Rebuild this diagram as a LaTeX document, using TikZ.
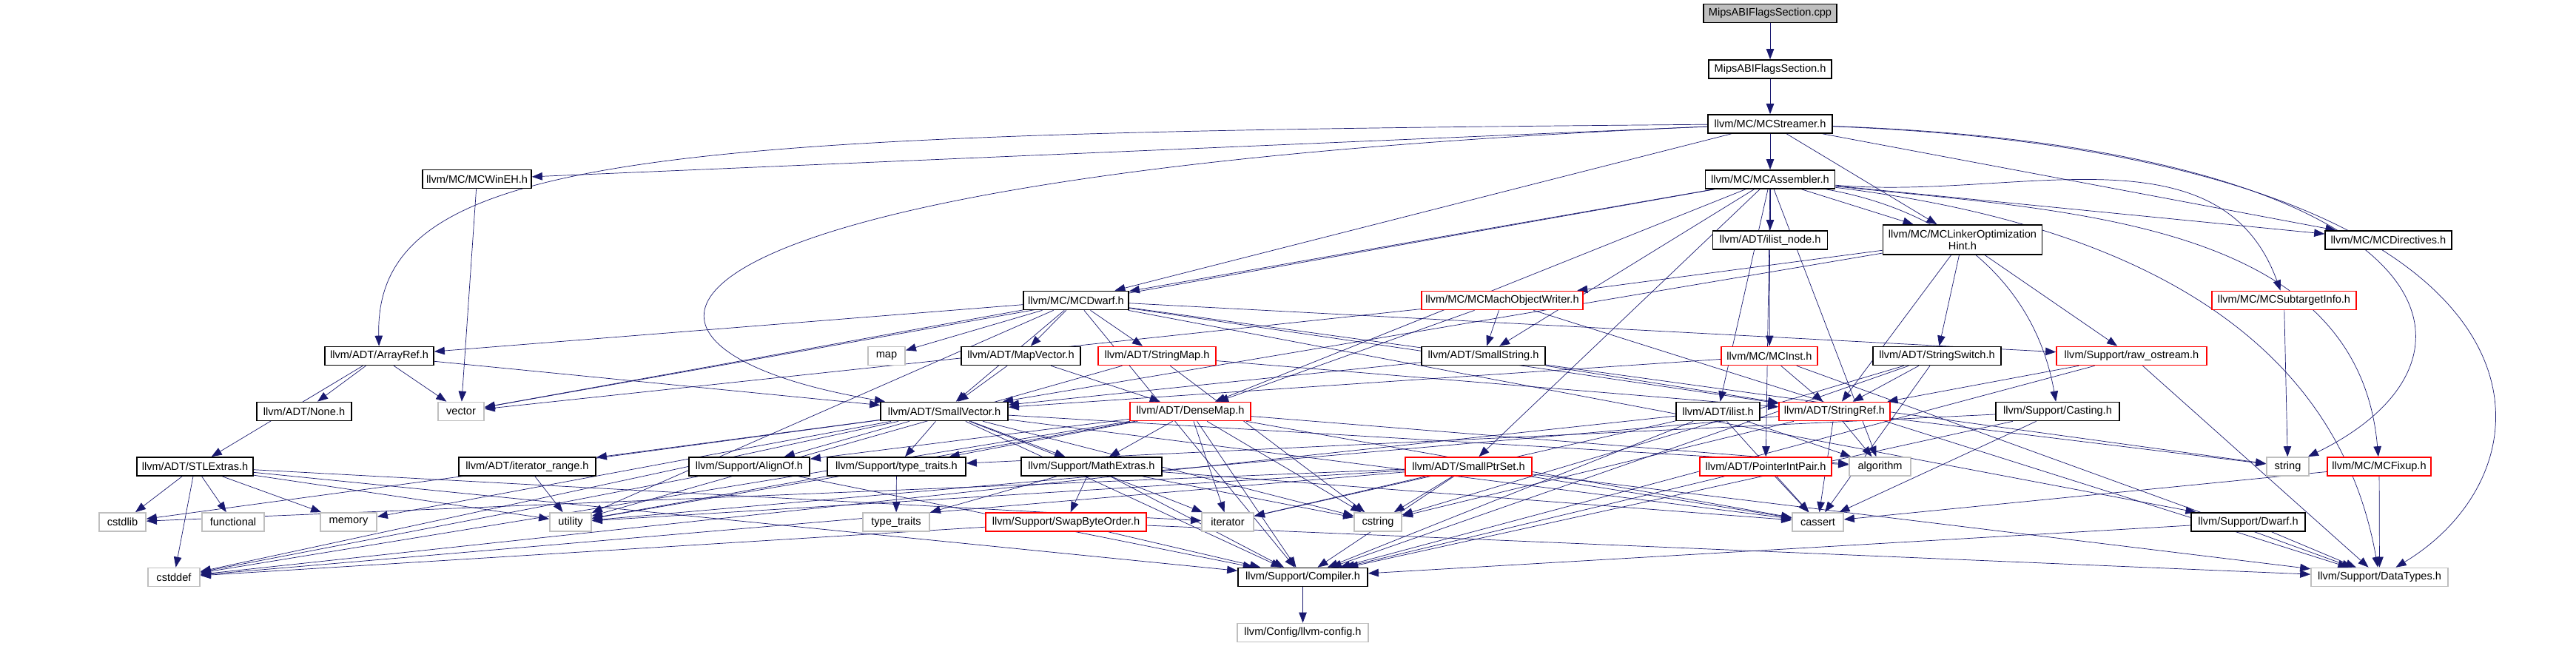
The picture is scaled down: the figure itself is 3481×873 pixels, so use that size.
\documentclass[tikz,border=0pt]{standalone}
\usepackage{fontspec}
\setmainfont{Liberation Sans}
\usetikzlibrary{arrows.meta,backgrounds}
\definecolor{edgeblue}{HTML}{191970}
\definecolor{nodegray}{HTML}{BFBFBF}

\begin{document}
\begin{tikzpicture}[x=0.2mm, y=-0.2mm, font=\fontsize{8.3}{9}\selectfont,
  >={Triangle[length=2.8mm, width=2.1mm]}, line width=0.34mm,
  hf/.style={draw=black, fill=white, minimum height=5mm, inner sep=0pt, line width=0.34mm},
  sf/.style={hf, draw=nodegray},
  tf/.style={hf, draw=red},
  ed/.style={->, edgeblue}]
  \useasboundingbox (0,0) rectangle (3481,873);
  % rank 0-3
  \node[hf, fill=nodegray, minimum width=36mm] (cpp) at (2392,18) {MipsABIFlagsSection.cpp};
  \node[hf, minimum width=33.2mm] (mipsh) at (2392,93.5) {MipsABIFlagsSection.h};
  \node[hf, minimum width=33.6mm] (streamer) at (2392,167.5) {llvm/MC/MCStreamer.h};
  \node[hf, minimum width=35mm] (assembler) at (2392,242.5) {llvm/MC/MCAssembler.h};
  \node[hf, minimum width=29.4mm] (wineh) at (644.5,242) {llvm/MC/MCWinEH.h};
  % rank 4-5
  \node[hf, minimum width=31mm] (ilistnode) at (2392,324.5) {llvm/ADT/ilist\_node.h};
  \node[hf, minimum width=43mm, minimum height=8mm, align=center] (linkopt) at (2652,324) {llvm/MC/MCLinkerOptimization\\Hint.h};
  \node[hf, minimum width=34.2mm] (directives) at (3227.5,324.5) {llvm/MC/MCDirectives.h};
  \node[hf, minimum width=28.4mm] (mcdwarf) at (1454,406) {llvm/MC/MCDwarf.h};
  \node[tf, minimum width=43.6mm] (machobj) at (2030,406) {llvm/MC/MCMachObjectWriter.h};
  \node[tf, minimum width=39mm] (subtarget) at (3086.5,406) {llvm/MC/MCSubtargetInfo.h};
  % rank 6
  \node[hf, minimum width=29.4mm] (arrayref) at (512.5,481) {llvm/ADT/ArrayRef.h};
  \node[sf, minimum width=10mm] (map) at (1198,481) {map};
  \node[hf, minimum width=32.2mm] (mapvector) at (1379.5,481) {llvm/ADT/MapVector.h};
  \node[tf, minimum width=31.8mm] (stringmap) at (1563.5,481) {llvm/ADT/StringMap.h};
  \node[hf, minimum width=33.4mm] (smallstring) at (2004.5,481) {llvm/ADT/SmallString.h};
  \node[tf, minimum width=26mm] (mcinst) at (2391,481) {llvm/MC/MCInst.h};
  \node[hf, minimum width=34.6mm] (stringswitch) at (2617.5,481) {llvm/ADT/StringSwitch.h};
  \node[tf, minimum width=40.6mm] (rawostream) at (2880.5,481) {llvm/Support/raw\_ostream.h};
  % rank 7
  \node[hf, minimum width=25.6mm] (none) at (411,556) {llvm/ADT/None.h};
  \node[sf, minimum width=12.4mm] (vector) at (623,556) {vector};
  \node[hf, minimum width=34.4mm] (smallvector) at (1276,556) {llvm/ADT/SmallVector.h};
  \node[tf, minimum width=32.6mm] (densemap) at (1608.5,556) {llvm/ADT/DenseMap.h};
  \node[hf, minimum width=22.6mm] (ilist) at (2321.5,556) {llvm/ADT/ilist.h};
  \node[tf, minimum width=30mm] (stringref) at (2479,556) {llvm/ADT/StringRef.h};
  \node[hf, minimum width=33.4mm] (casting) at (2780.5,556) {llvm/Support/Casting.h};
  % rank 8
  \node[hf, minimum width=31.4mm] (stlextras) at (263.5,630.5) {llvm/ADT/STLExtras.h};
  \node[hf, minimum width=37mm] (iterrange) at (712.5,630.5) {llvm/ADT/iterator\_range.h};
  \node[hf, minimum width=32.6mm] (alignof) at (1012.5,630.5) {llvm/Support/AlignOf.h};
  \node[hf, minimum width=37.4mm] (typetraitsh) at (1211.5,630.5) {llvm/Support/type\_traits.h};
  \node[hf, minimum width=38mm] (mathextras) at (1475,630.5) {llvm/Support/MathExtras.h};
  \node[tf, minimum width=34.2mm] (smallptrset) at (1984.5,630.5) {llvm/ADT/SmallPtrSet.h};
  \node[tf, minimum width=35.6mm] (pointerintpair) at (2386,630.5) {llvm/ADT/PointerIntPair.h};
  \node[sf, minimum width=16.6mm] (algorithm) at (2540.5,630.5) {algorithm};
  \node[sf, minimum width=11.4mm] (string) at (3091.5,630.5) {string};
  \node[tf, minimum width=28mm] (mcfixup) at (3215,630.5) {llvm/MC/MCFixup.h};
  % rank 9
  \node[sf, minimum width=12.6mm] (cstdlib) at (165.5,705.5) {cstdlib};
  \node[sf, minimum width=16.8mm] (functional) at (315,705.5) {functional};
  \node[sf, minimum width=15.2mm] (memory) at (471,705.5) {memory};
  \node[sf, minimum width=11.2mm] (utility) at (771,705.5) {utility};
  \node[sf, minimum width=18mm] (typetraits) at (1211,705.5) {type\_traits};
  \node[tf, minimum width=43.4mm] (swapbyte) at (1440.5,705.5) {llvm/Support/SwapByteOrder.h};
  \node[sf, minimum width=14mm] (iterator) at (1659,705.5) {iterator};
  \node[sf, minimum width=12.8mm] (cstring) at (1862,705.5) {cstring};
  \node[sf, minimum width=13.8mm] (cassert) at (2456.5,705.5) {cassert};
  \node[hf, minimum width=30.8mm] (dwarf) at (3038,705.5) {llvm/Support/Dwarf.h};
  % rank 10-11
  \node[sf, minimum width=14mm] (cstddef) at (235,780) {cstddef};
  \node[hf, minimum width=35mm] (compiler) at (1760.5,780) {llvm/Support/Compiler.h};
  \node[sf, minimum width=37mm] (datatypes) at (3215.5,780) {llvm/Support/DataTypes.h};
  \node[sf, minimum width=35.4mm] (llvmconfig) at (1760.5,855) {llvm/Config/llvm-config.h};

  \begin{scope}[on background layer]
    \fill[white] (0,0) rectangle (3481,873);
    \foreach \a/\b in {cpp/mipsh, mipsh/streamer, streamer/assembler, streamer/wineh, streamer/mcdwarf,
      streamer/linkopt, streamer/directives, wineh/vector} \draw[ed] (\a) -- (\b);
    \draw[ed] (streamer) .. controls (900,180) and (505,200) .. (arrayref);
    \draw[ed] (streamer) .. controls (800,235) and (760,470) .. (smallvector);
    \draw[ed] (streamer) .. controls (3300,200) and (3400,480) .. (string);
    \draw[ed] (streamer) .. controls (3470,210) and (3480,620) .. (datatypes);
    \foreach \a/\b in {assembler/ilistnode, assembler/linkopt, assembler/directives, assembler/mcdwarf,
      assembler/mcinst, assembler/ilist, assembler/pointerintpair, assembler/smallptrset, assembler/densemap,
      assembler/smallstring, assembler/vector, assembler/algorithm} \draw[ed] (\a) -- (\b);
    \draw[ed] (assembler) to[out=-5, in=110] (subtarget);
    \draw[ed] (assembler) to[out=-6, in=95] (mcfixup);
    \draw[ed] (assembler) to[out=-7, in=100] (datatypes);
    \draw[ed] (assembler) to[out=-10, in=100] (casting);
    \foreach \a/\b in {linkopt/machobj, linkopt/smallvector, linkopt/stringref, linkopt/stringswitch, linkopt/rawostream,
      mcdwarf/map, mcdwarf/mapvector, mcdwarf/stringmap, mcdwarf/arrayref, mcdwarf/vector, mcdwarf/smallvector,
      mcdwarf/stringref, mcdwarf/rawostream, mcdwarf/dwarf, mcdwarf/string, mcdwarf/utility, mcdwarf/compiler,
      machobj/smallstring, machobj/densemap, machobj/vector, machobj/datatypes, subtarget/string} \draw[ed] (\a) -- (\b);
    \foreach \a/\b in {arrayref/none, arrayref/vector, arrayref/stlextras, arrayref/smallvector,
      mapvector/smallvector, mapvector/densemap, stringmap/stringref, stringmap/cstring, stringmap/utility,
      smallstring/smallvector, smallstring/stringref, mcinst/smallvector, mcinst/stringref, mcinst/datatypes,
      stringswitch/stringref, stringswitch/cassert, stringswitch/cstring, stringswitch/compiler,
      rawostream/stringref, rawostream/compiler, rawostream/datatypes} \draw[ed] (\a) -- (\b);
    \foreach \a/\b in {smallvector/iterrange, smallvector/alignof, smallvector/typetraitsh, smallvector/mathextras,
      smallvector/algorithm, smallvector/cassert, smallvector/cstddef, smallvector/cstdlib, smallvector/cstring,
      smallvector/iterator, smallvector/memory, smallvector/compiler,
      densemap/alignof, densemap/typetraitsh, densemap/mathextras, densemap/iterator, densemap/compiler,
      densemap/utility, densemap/cassert, densemap/algorithm, densemap/cstddef, densemap/cstring,
      ilist/iterator, ilist/algorithm, ilist/cassert, ilist/cstddef, ilist/compiler,
      stringref/algorithm, stringref/cassert, stringref/cstring, stringref/string, stringref/utility,
      casting/typetraitsh, casting/cassert, casting/compiler} \draw[ed] (\a) -- (\b);
    \foreach \a/\b in {stlextras/cstdlib, stlextras/functional, stlextras/memory, stlextras/cstddef, stlextras/utility,
      stlextras/iterator, stlextras/compiler, iterrange/utility, alignof/compiler, alignof/cstddef,
      typetraitsh/typetraits, typetraitsh/utility, mathextras/typetraits, mathextras/swapbyte, mathextras/compiler,
      mathextras/cassert, mathextras/cstring, smallptrset/cstring, smallptrset/compiler, smallptrset/cassert,
      smallptrset/cstddef, smallptrset/cstdlib, smallptrset/iterator, smallptrset/utility, smallptrset/datatypes,
      pointerintpair/compiler, pointerintpair/cassert, mcfixup/cassert, mcfixup/datatypes} \draw[ed] (\a) -- (\b);
    \foreach \a/\b in {swapbyte/compiler, swapbyte/datatypes, swapbyte/cstddef, dwarf/compiler, dwarf/datatypes,
      compiler/llvmconfig} \draw[ed] (\a) -- (\b);
  \end{scope}
\end{tikzpicture}
\end{document}
